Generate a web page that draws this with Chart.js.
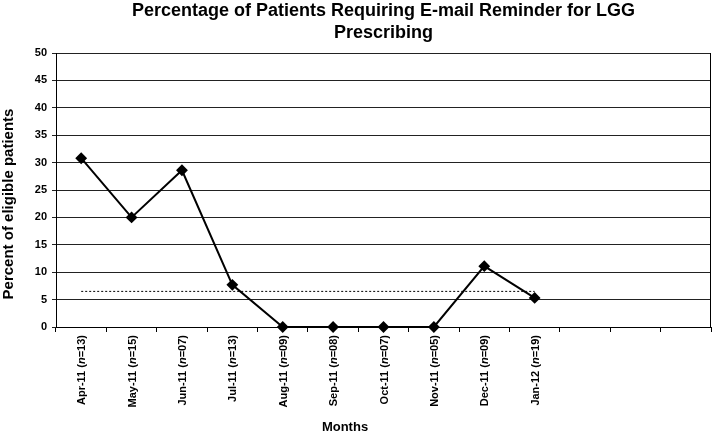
<!DOCTYPE html>
<html>
<head>
<meta charset="utf-8">
<script src="https://cdn.jsdelivr.net/npm/chart.js@4.4.1/dist/chart.umd.min.js"></script>
<style>
  html, body { margin: 0; padding: 0; background: #fff; }
  #wrap { width: 713px; height: 433px; }
</style>
</head>
<body>
<div id="wrap"><canvas id="reminderChart" width="713" height="433"></canvas></div>
<script>
// months on the axis (last three slots are empty in the original)
const months = ["Apr-11", "May-11", "Jun-11", "Jul-11", "Aug-11", "Sep-11",
  "Oct-11", "Nov-11", "Dec-11", "Jan-12", "", "", ""];
const sampleSizes = ["13", "15", "07", "13", "09", "08", "07", "05", "09", "19"];

// percent of eligible patients needing a reminder
const percentValues = [30.8, 20.0, 28.6, 7.7, 0, 0, 0, 0, 11.1, 5.3, null, null, null];
// median reference line (dotted)
const medianValues = [6.5, 6.5, 6.5, 6.5, 6.5, 6.5, 6.5, 6.5, 6.5, 6.5, null, null, null];

const yTicks = [0, 5, 10, 15, 20, 25, 30, 35, 40, 45, 50];

const FONT = "'Liberation Sans', Arial, sans-serif";

// title, axis titles and the "(n=..)" labels with italic n
const textPlugin = {
  id: "excelText",
  afterDraw(chart) {
    const ctx = chart.ctx;
    const area = chart.chartArea;
    const xScale = chart.scales.x;
    ctx.save();
    ctx.fillStyle = "#000";

    // chart title
    ctx.font = "bold 18px " + FONT;
    ctx.textAlign = "center";
    ctx.textBaseline = "middle";
    const cx = (area.left + area.right) / 2;
    ctx.fillText("Percentage of Patients Requiring E-mail Reminder for LGG", cx, 11);
    ctx.fillText("Prescribing", cx, 33);

    // right border of the plot
    ctx.strokeStyle = "#000";
    ctx.lineWidth = 1;
    ctx.beginPath();
    ctx.moveTo(Math.round(area.right) - 0.5, area.top);
    ctx.lineTo(Math.round(area.right) - 0.5, area.bottom);
    ctx.stroke();

    // y axis title
    ctx.save();
    ctx.translate(9, 204);
    ctx.rotate(-Math.PI / 2);
    ctx.font = "bold 15px " + FONT;
    ctx.fillText("Percent of eligible patients", 0, 0);
    ctx.restore();

    // x axis title
    ctx.font = "bold 13px " + FONT;
    ctx.fillText("Months", 345, 427);

    // rotated month labels
    months.forEach((m, i) => {
      if (!m) return;
      const parts = [
        ["bold 11px " + FONT, m + " ("],
        ["italic bold 11px " + FONT, "n"],
        ["bold 11px " + FONT, "=" + sampleSizes[i] + ")"]
      ];
      let total = 0;
      parts.forEach(p => { ctx.font = p[0]; total += ctx.measureText(p[1]).width; });
      ctx.save();
      ctx.translate(xScale.getPixelForTick(i) + 1, 335);
      ctx.rotate(-Math.PI / 2);
      ctx.textAlign = "left";
      ctx.textBaseline = "middle";
      let pos = -total;
      parts.forEach(p => {
        ctx.font = p[0];
        ctx.fillText(p[1], pos, 0);
        pos += ctx.measureText(p[1]).width;
      });
      ctx.restore();
    });
    ctx.restore();
  }
};

new Chart(document.getElementById("reminderChart"), {
  type: "line",
  data: {
    labels: months,
    datasets: [
      {
        label: "Percent requiring reminder",
        data: percentValues,
        borderColor: "#000",
        backgroundColor: "#000",
        borderWidth: 2,
        pointStyle: "rectRot",
        pointRadius: 4.5,
        pointHoverRadius: 4.5,
        tension: 0,
        clip: false
      },
      {
        label: "Median",
        data: medianValues,
        borderColor: "#000",
        borderWidth: 1,
        borderDash: [2, 2],
        pointRadius: 0,
        fill: false
      }
    ]
  },
  options: {
    responsive: false,
    animation: false,
    layout: {
      autoPadding: false,
      padding: { top: 53, left: 0, right: 2, bottom: 0 }
    },
    plugins: {
      legend: { display: false },
      title: { display: false },
      tooltip: { enabled: false }
    },
    scales: {
      x: {
        offset: true,
        grid: {
          display: true,
          offset: true,
          drawOnChartArea: false,
          drawTicks: true,
          tickLength: 5,
          color: "#000"
        },
        border: { color: "#000", width: 1 },
        ticks: { display: false },
        afterFit(scale) { scale.height = 106; }
      },
      y: {
        min: 0,
        max: 50,
        afterBuildTicks(scale) { scale.ticks = yTicks.map(v => ({ value: v })); },
        grid: {
          color: "#222",
          lineWidth: 1,
          drawTicks: true,
          tickLength: 4
        },
        border: { color: "#000", width: 1 },
        ticks: {
          color: "#000",
          padding: 5,
          font: { family: FONT, size: 11, weight: "bold" }
        },
        afterFit(scale) { scale.width = 56; }
      }
    }
  },
  plugins: [textPlugin]
});
</script>
</body>
</html>
